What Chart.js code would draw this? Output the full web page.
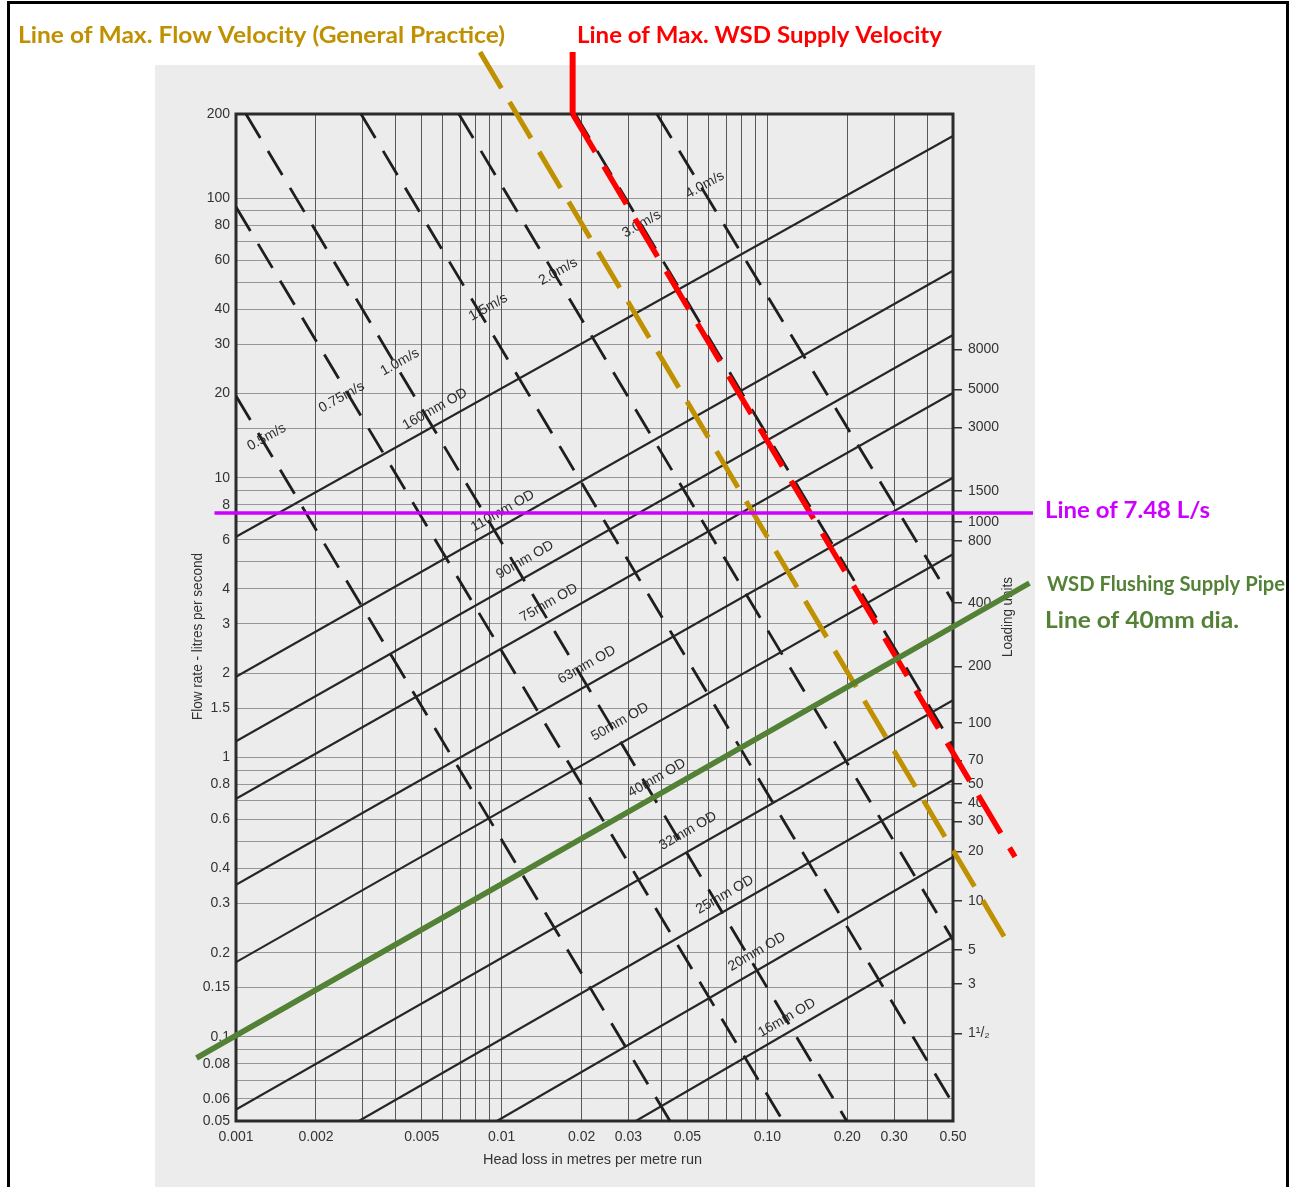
<!DOCTYPE html>
<html>
<head>
<meta charset="utf-8">
<title>Pipe sizing chart - flow rate vs head loss</title>
<script src="https://cdn.jsdelivr.net/npm/chart.js@4.4.0/dist/chart.umd.min.js"></script>
<style>
  html, body { margin: 0; padding: 0; background: #fff; }
  #wrap { width: 1297px; height: 1187px; }
</style>
</head>
<body>
<div id="wrap"><canvas id="pipeChart" width="1297" height="1187"></canvas></div>
<script>
// ---- axis ticks (head loss m/m on x, flow L/s on y) ----
const headTickValues = [0.001, 0.002, 0.005, 0.01, 0.02, 0.03, 0.05, 0.1, 0.2, 0.3, 0.5];
const headTickLabels = ['0.001', '0.002', '0.005', '0.01', '0.02', '0.03', '0.05', '0.10', '0.20', '0.30', '0.50'];
const flowTickValues = [200, 100, 80, 60, 40, 30, 20, 10, 8, 6, 4, 3, 2, 1.5, 1, 0.8, 0.6, 0.4, 0.3, 0.2, 0.15, 0.1, 0.08, 0.06, 0.05];
const flowTickLabels = ['200', '100', '80', '60', '40', '30', '20', '10', '8', '6', '4', '3', '2', '1.5', '1', '0.8', '0.6', '0.4', '0.3', '0.2', '0.15', '0.1', '0.08', '0.06', '0.05'];

// loading units scale on the right, placed at the flow it stands for
const loadingUnitLabels = ['8000', '5000', '3000', '1500', '1000', '800', '400', '200', '100', '70', '50', '40', '30', '20', '10', '5', '3', '1\u00B9/\u2082'];
const loadingUnitFlows = [28.8, 20.7, 15.15, 8.99, 6.96, 5.95, 3.57, 2.11, 1.324, 0.973, 0.801, 0.688, 0.589, 0.46, 0.307, 0.2047, 0.1547, 0.103];

// ---- pipe diameter lines (solid) ----
const pipeSizes = ['160mm OD', '110mm OD', '90mm OD', '75mm OD', '63mm OD', '50mm OD', '40mm OD', '32mm OD', '25mm OD', '20mm OD', '16mm OD'];
const pipeStartHead = [0.001, 0.001, 0.001, 0.001, 0.001, 0.001, 0.001, 0.001, 0.0029, 0.0096, 0.032];
const pipeStartFlow = [6.15, 1.94, 1.14, 0.71, 0.35, 0.185, 0.10, 0.055, 0.05, 0.05, 0.05];
const pipeEndHead = [0.5, 0.5, 0.5, 0.5, 0.5, 0.5, 0.5, 0.5, 0.5, 0.5, 0.5];
const pipeEndFlow = [167, 55, 32.4, 20.1, 10.0, 5.33, 2.9, 1.6, 0.83, 0.44, 0.228];
const pipeLabelHead = [0.00561, 0.0101, 0.01224, 0.01507, 0.02094, 0.02788, 0.03841, 0.05028, 0.0692, 0.0914, 0.1185];
const pipeLabelFlow = [17.6, 7.6, 5.08, 3.565, 2.14, 1.338, 0.843, 0.545, 0.322, 0.2014, 0.1169];

// ---- velocity lines (dashed) ----
const velocities = ['0.5m/s', '0.75m/s', '1.0m/s', '1.5m/s', '2.0m/s', '3.0m/s', '4.0m/s'];
const velStartHead = [0.001, 0.001, 0.00109, 0.002955, 0.0069, 0.0189, 0.0384];
const velStartFlow = [19.6, 93, 200, 200, 200, 200, 200];
const velEndHead = [0.043, 0.1145, 0.199, 0.5, 0.5, 0.5, 0.5];
const velEndFlow = [0.05, 0.05, 0.05, 0.0576, 0.222, 1.098, 3.6];
const velLabelHead = [0.001305, 0.0025, 0.004143, 0.0089, 0.01633, 0.03363, 0.05824];
const velLabelFlow = [13.96, 19.4, 25.9, 40.7, 54.6, 80.8, 111.5];

// ---- marked-up lines ----
const designFlow = 7.48;               // Line of 7.48 L/s
const designFlowHead = [0.00083, 1.0];
const flushPipeHead = [0.00071, 0.97];  // WSD flushing supply pipe, 40mm
const flushPipeFlow = [0.084, 4.2];
const generalVelHead = [0.00829, 0.784]; // max flow velocity (general practice)
const generalVelFlow = [333, 0.226];
const wsdVelHead = [0.0185, 0.0185, 0.856]; // max WSD supply velocity
const wsdVelFlow = [333, 200, 0.44];

const GOLD = '#BF9000';
const RED = '#FF0000';
const MAGENTA = '#CC00FF';
const GREEN = '#538135';
const INK = '#262626';
const TICK_FONT = { family: '"Liberation Sans", Arial, sans-serif', size: 14 };

function logGrid(min, max, extra) {
  const vals = [];
  for (let e = -3; e <= 2; e++) {
    for (let m = 1; m <= 9; m++) {
      const v = +(m * Math.pow(10, e)).toPrecision(6);
      if (v >= min * 0.999999 && v <= max * 1.000001) vals.push(v);
    }
  }
  return vals.concat(extra).sort((a, b) => a - b);
}
const headGrid = logGrid(0.001, 0.5, []);
const flowGrid = logGrid(0.05, 200, [0.15, 1.5, 15]);

function labelFor(value, values, labels) {
  const i = values.findIndex(t => Math.abs(t - value) / t < 1e-6);
  return i >= 0 ? labels[i] : '';
}

function segment(xs, ys) {
  return xs.map((x, i) => ({ x: x, y: ys[i] }));
}

// Build datasets: overlays get a low order so they are drawn on top
const datasets = [];
datasets.push({
  label: 'Line of 7.48 L/s',
  data: segment(designFlowHead, [designFlow, designFlow]),
  borderColor: MAGENTA, borderWidth: 3.5, clip: false, order: 1
});
datasets.push({
  label: 'Line of 40mm dia.',
  data: segment(flushPipeHead, flushPipeFlow),
  borderColor: GREEN, borderWidth: 5.5, clip: false, order: 1
});
datasets.push({
  label: 'Line of Max. Flow Velocity (General Practice)',
  data: segment(generalVelHead, generalVelFlow),
  borderColor: GOLD, borderWidth: 5, borderDash: [42, 16], clip: false, order: 2
});
datasets.push({
  label: 'WSD marker',
  data: segment(wsdVelHead.slice(0, 2), wsdVelFlow.slice(0, 2)),
  borderColor: RED, borderWidth: 6, clip: false, order: 1
});
datasets.push({
  label: 'Line of Max. WSD Supply Velocity',
  data: segment(wsdVelHead.slice(1), wsdVelFlow.slice(1)),
  borderColor: RED, borderWidth: 5.5, borderDash: [44, 17], clip: false, order: 1
});
pipeSizes.forEach((name, i) => {
  datasets.push({
    label: name,
    data: [{ x: pipeStartHead[i], y: pipeStartFlow[i] }, { x: pipeEndHead[i], y: pipeEndFlow[i] }],
    borderColor: INK, borderWidth: 2.2, order: 10
  });
});
velocities.forEach((name, i) => {
  datasets.push({
    label: name,
    data: [{ x: velStartHead[i], y: velStartFlow[i] }, { x: velEndHead[i], y: velEndFlow[i] }],
    borderColor: '#1e1e1e', borderWidth: 2.8, borderDash: [28, 15], order: 10
  });
});

// draw text squeezed/stretched to an exact width
function fitText(ctx, text, x, y, width) {
  const w = ctx.measureText(text).width;
  ctx.save();
  ctx.translate(x, y);
  ctx.scale(width / w, 1);
  ctx.fillText(text, 0, 0);
  ctx.restore();
}

function rotatedText(ctx, text, x, y, angle) {
  ctx.save();
  ctx.translate(x, y);
  ctx.rotate(angle);
  ctx.fillText(text, 0, 0);
  ctx.restore();
}

const sheetPlugin = {
  id: 'sheet',
  beforeDraw(chart) {
    const ctx = chart.ctx;
    ctx.save();
    ctx.fillStyle = '#ffffff';
    ctx.fillRect(0, 0, chart.width, chart.height);
    ctx.fillStyle = '#ececec';
    ctx.fillRect(155, 65, 880, chart.height - 65);
    ctx.fillStyle = '#000000';
    ctx.fillRect(7, 1, 1282, 3);
    ctx.fillRect(7, 1, 3, chart.height);
    ctx.fillRect(1286, 1, 3, chart.height);
    ctx.restore();
  },
  beforeDatasetsDraw(chart) {
    const ctx = chart.ctx;
    const a = chart.chartArea;
    const xs = chart.scales.x, ys = chart.scales.y;
    ctx.save();
    // plot frame
    ctx.strokeStyle = '#2b2b2b';
    ctx.lineWidth = 3;
    ctx.strokeRect(a.left, a.top, a.right - a.left, a.bottom - a.top);

    // axis titles
    ctx.fillStyle = '#333';
    ctx.textBaseline = 'middle';
    ctx.font = '14px "Liberation Sans", Arial, sans-serif';
    ctx.textAlign = 'left';
    fitText(ctx, 'Head loss in metres per metre run', 483, 1160, 219);
    ctx.save();
    ctx.translate(198, 637);
    ctx.rotate(-Math.PI / 2);
    fitText(ctx, 'Flow rate - litres per second', -83, 0, 167);
    ctx.restore();
    ctx.save();
    ctx.translate(1008, 617);
    ctx.rotate(-Math.PI / 2);
    fitText(ctx, 'Loading units', -40, 0, 80);
    ctx.restore();

    // line labels, rotated along the pipe lines
    ctx.textAlign = 'center';
    ctx.font = '14px "Liberation Sans", Arial, sans-serif';
    ctx.fillStyle = '#2e2e2e';
    const angleOf = i => Math.atan2(
      ys.getPixelForValue(pipeEndFlow[i]) - ys.getPixelForValue(pipeStartFlow[i]),
      xs.getPixelForValue(pipeEndHead[i]) - xs.getPixelForValue(pipeStartHead[i]));
    pipeSizes.forEach((name, i) => {
      rotatedText(ctx, name, xs.getPixelForValue(pipeLabelHead[i]), ys.getPixelForValue(pipeLabelFlow[i]), angleOf(i));
    });
    const vAngle = angleOf(0);
    velocities.forEach((name, i) => {
      rotatedText(ctx, name, xs.getPixelForValue(velLabelHead[i]), ys.getPixelForValue(velLabelFlow[i]), vAngle);
    });
    ctx.restore();
  },
  afterDraw(chart) {
    const ctx = chart.ctx;
    ctx.save();
    ctx.textAlign = 'left';
    ctx.textBaseline = 'alphabetic';
    ctx.font = 'bold 23px Lato, "Open Sans", sans-serif';
    ctx.fillStyle = GOLD;
    fitText(ctx, 'Line of Max. Flow Velocity (General Practice)', 18, 43, 487);
    ctx.fillStyle = RED;
    fitText(ctx, 'Line of Max. WSD Supply Velocity', 577, 43, 365);
    ctx.fillStyle = MAGENTA;
    fitText(ctx, 'Line of 7.48 L/s', 1045, 518, 165);
    ctx.fillStyle = GREEN;
    ctx.font = 'bold 20px Lato, "Open Sans", sans-serif';
    fitText(ctx, 'WSD Flushing Supply Pipe', 1047, 591, 238);
    ctx.font = 'bold 22px Lato, "Open Sans", sans-serif';
    fitText(ctx, 'Line of 40mm dia.', 1045, 628, 194);
    ctx.restore();
  }
};

new Chart(document.getElementById('pipeChart'), {
  type: 'scatter',
  data: { datasets: datasets },
  options: {
    responsive: false,
    animation: false,
    showLine: true,
    elements: {
      point: { radius: 0, hoverRadius: 0 },
      line: { tension: 0, fill: false }
    },
    layout: { padding: { top: 114, left: 0, right: 0, bottom: 0 } },
    plugins: {
      legend: { display: false },
      tooltip: { enabled: false },
      title: { display: false }
    },
    events: [],
    scales: {
      x: {
        type: 'logarithmic',
        min: 0.001,
        max: 0.5,
        afterBuildTicks: s => { s.ticks = headGrid.map(v => ({ value: v })); },
        afterFit: s => { s.height = 66; },
        grid: { color: 'rgba(40,40,40,0.75)', lineWidth: 1, drawTicks: false },
        border: { display: false },
        ticks: {
          autoSkip: false, maxRotation: 0, minRotation: 0, padding: 8,
          color: '#333', font: TICK_FONT,
          callback: v => labelFor(v, headTickValues, headTickLabels)
        }
      },
      y: {
        type: 'logarithmic',
        position: 'left',
        min: 0.05,
        max: 200,
        afterBuildTicks: s => { s.ticks = flowGrid.map(v => ({ value: v })); },
        afterFit: s => { s.width = 236; },
        grid: { color: 'rgba(80,80,80,0.55)', lineWidth: 1, drawTicks: false },
        border: { display: false },
        ticks: {
          autoSkip: false, padding: 6,
          color: '#333', font: TICK_FONT,
          callback: v => labelFor(v, flowTickValues, flowTickLabels)
        }
      },
      y2: {
        type: 'logarithmic',
        position: 'right',
        min: 0.05,
        max: 200,
        afterBuildTicks: s => { s.ticks = loadingUnitFlows.map(v => ({ value: v })); },
        afterFit: s => { s.width = 344; },
        grid: { drawOnChartArea: false, drawTicks: true, tickLength: 9, color: '#333', lineWidth: 1.5 },
        border: { display: false },
        ticks: {
          autoSkip: false, padding: 6,
          color: '#333', font: TICK_FONT,
          callback: v => labelFor(v, loadingUnitFlows, loadingUnitLabels)
        }
      }
    }
  },
  plugins: [sheetPlugin]
});
</script>
</body>
</html>
